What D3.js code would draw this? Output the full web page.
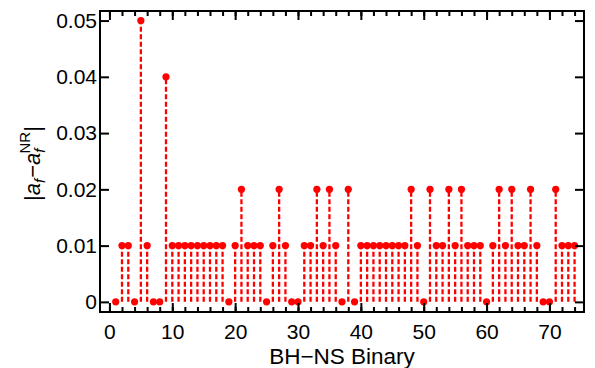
<!DOCTYPE html>
<html>
<head>
<meta charset="utf-8">
<script src="https://cdn.jsdelivr.net/npm/d3@7"></script>
<style>
  body { margin: 0; background: #fff; }
  text { font-family: "Liberation Sans", Arial, Helvetica, sans-serif; fill: #000; }
</style>
</head>
<body>
<svg id="chart" width="595" height="368"></svg>
<script>
// binary index 1..74
var binaries = d3.range(1, 75);
var spinDiff = [
  0, 0.01, 0.01, 0, 0.05, 0.01, 0, 0, 0.04, 0.01,
  0.01, 0.01, 0.01, 0.01, 0.01, 0.01, 0.01, 0.01, 0, 0.01,
  0.02, 0.01, 0.01, 0.01, 0, 0.01, 0.02, 0.01, 0, 0,
  0.01, 0.01, 0.02, 0.01, 0.02, 0.01, 0, 0.02, 0, 0.01,
  0.01, 0.01, 0.01, 0.01, 0.01, 0.01, 0.01, 0.02, 0.01, 0,
  0.02, 0.01, 0.01, 0.02, 0.01, 0.02, 0.01, 0.01, 0.01, 0,
  0.01, 0.02, 0.01, 0.02, 0.01, 0.01, 0.02, 0.01, 0, 0,
  0.02, 0.01, 0.01, 0.01
];
var xMajorTicks = [0, 10, 20, 30, 40, 50, 60, 70];
var xMinorTicks = d3.range(0, 76, 2);
var yTicks = [0, 0.01, 0.02, 0.03, 0.04, 0.05];

var margin = {left: 100, right: 11, top: 11, bottom: 56}
  , width = 595 - margin.left - margin.right
  , height = 368 - margin.top - margin.bottom;

var svg = d3.select('#chart');
var g = svg.append('g').attr('transform', 'translate(' + margin.left + ',' + margin.top + ')');

var x = d3.scaleLinear().domain([-1.5, 75.5]).range([0, width]);
var y = d3.scaleLinear().domain([-0.0018, 0.0517]).range([height, 0]);

var data = binaries.map((b, i) => ({b: b, v: spinDiff[i]}));

// stems
g.selectAll('line.stem')
  .data(data.filter(d => d.v > 0))
  .enter().append('line')
  .attr('class', 'stem')
  .attr('x1', d => x(d.b)).attr('x2', d => x(d.b))
  .attr('y1', y(0)).attr('y2', d => y(d.v))
  .attr('stroke', '#ff0000')
  .attr('stroke-width', 2.3)
  .attr('stroke-dasharray', '5,2.5');

// markers
g.selectAll('circle.pt')
  .data(data)
  .enter().append('circle')
  .attr('class', 'pt')
  .attr('cx', d => x(d.b))
  .attr('cy', d => y(d.v))
  .attr('r', 3.6)
  .attr('fill', '#ff0000');

function styleAxis(sel) {
  sel.select('.domain').remove();
  sel.selectAll('line').attr('stroke', '#000').attr('stroke-width', 2);
  sel.selectAll('text').style('font-size', '21px');
}

// bottom axis, ticks inward
g.append('g')
  .attr('transform', 'translate(0,' + height + ')')
  .call(d3.axisBottom(x).tickValues(xMinorTicks).tickSize(-5).tickFormat(''))
  .call(styleAxis);
g.append('g')
  .attr('transform', 'translate(0,' + height + ')')
  .call(d3.axisBottom(x).tickValues(xMajorTicks).tickSize(-9).tickPadding(12).tickFormat(d3.format('d')))
  .call(styleAxis);

// top axis mirror
g.append('g')
  .call(d3.axisTop(x).tickValues(xMinorTicks).tickSize(-5).tickFormat(''))
  .call(styleAxis);
g.append('g')
  .call(d3.axisTop(x).tickValues(xMajorTicks).tickSize(-9).tickFormat(''))
  .call(styleAxis);

// left axis
g.append('g')
  .call(d3.axisLeft(y).tickValues(yTicks).tickSize(-9).tickPadding(3).tickFormat(d => d === 0 ? '0' : d3.format('.2f')(d)))
  .call(styleAxis);

// right axis mirror
g.append('g')
  .attr('transform', 'translate(' + width + ',0)')
  .call(d3.axisRight(y).tickValues(yTicks).tickSize(-9).tickFormat(''))
  .call(styleAxis);

// frame
g.append('rect')
  .attr('width', width).attr('height', height)
  .attr('fill', 'none').attr('stroke', '#000').attr('stroke-width', 2);

// x label
g.append('text')
  .attr('x', width / 2).attr('y', height + 52)
  .attr('text-anchor', 'middle')
  .style('font-size', '22.5px')
  .text('BH\u2212NS Binary');

// y label
var yl = svg.append('text')
  .attr('transform', 'translate(40,' + (margin.top + height / 2 + 2) + ') rotate(-90)')
  .attr('text-anchor', 'middle')
  .style('font-size', '22px');
yl.append('tspan').text('|');
yl.append('tspan').style('font-style', 'italic').text('a');
yl.append('tspan').style('font-style', 'italic').style('font-size', '15px').attr('dy', 5).text('f');
yl.append('tspan').attr('dx', 1).attr('dy', -5).text('\u2212');
yl.append('tspan').style('font-style', 'italic').text('a');
yl.append('tspan').style('font-style', 'italic').style('font-size', '15px').attr('dy', 5).text('f');
yl.append('tspan').style('font-size', '15px').attr('dx', -5).attr('dy', -15).text('NR');
yl.append('tspan').attr('dy', 10).text('|');
</script>
</body>
</html>
